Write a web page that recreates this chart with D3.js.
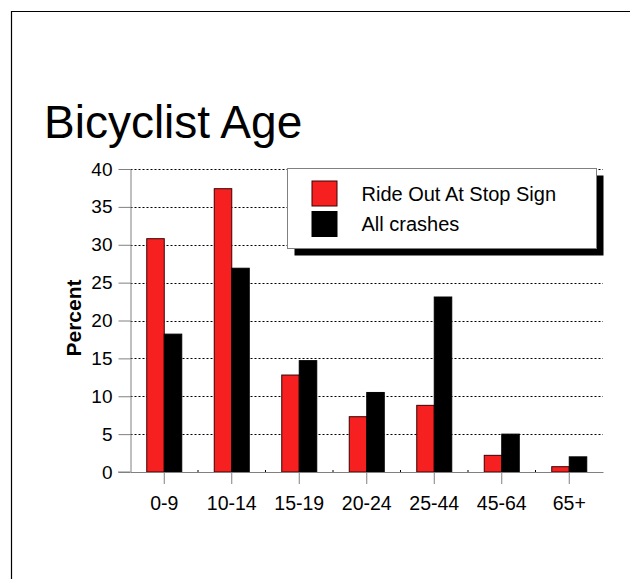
<!DOCTYPE html>
<html>
<head>
<meta charset="utf-8">
<script src="https://cdn.jsdelivr.net/npm/d3@7"></script>
<style>
  body { margin: 0; background: #fff; }
  text { font-family: "Liberation Sans", Arial, sans-serif; }
</style>
</head>
<body>
<svg id="chart" width="630" height="579"></svg>
<script>
const categories = ["0-9", "10-14", "15-19", "20-24", "25-44", "45-64", "65+"];
const rideOut = [30.8, 37.4, 12.8, 7.3, 8.8, 2.2, 0.7];
const allCrashes = [18.2, 26.9, 14.7, 10.5, 23.1, 5.0, 2.0];
const seriesNames = ["Ride Out At Stop Sign", "All crashes"];
const seriesColors = ["#f72020", "#000000"];
const yTicks = [0, 5, 10, 15, 20, 25, 30, 35, 40];

const svg = d3.select("#chart");

// page frame
svg.append("path")
    .attr("d", "M11.5,579 L11.5,11.5 L630,11.5")
    .attr("fill", "none")
    .attr("stroke", "#000")
    .attr("stroke-width", 1.2);

svg.append("text")
    .attr("x", 44).attr("y", 138)
    .attr("font-size", 46)
    .text("Bicyclist Age");

let margin = {top: 169, right: 27, bottom: 107, left: 130.5};
let width = 630, height = 579;

let x = d3.scaleBand()
    .domain(categories)
    .range([margin.left, width - margin.right]);

let xs = d3.scaleBand()
    .domain([0, 1])
    .range([x.bandwidth() / 2 - 17.5, x.bandwidth() / 2 + 17.5]);

let y = d3.scaleLinear()
    .domain([0, 40])
    .range([height - margin.bottom, margin.top]);

// dotted grid
svg.append("g")
    .selectAll("line").data(yTicks.filter(d => d > 0)).enter().append("line")
    .attr("x1", margin.left).attr("x2", width - margin.right)
    .attr("y1", d => Math.round(y(d)) + 0.5).attr("y2", d => Math.round(y(d)) + 0.5)
    .attr("stroke", "#000")
    .attr("stroke-dasharray", "2,2");

// y axis
let yAxis = g => g
    .attr("transform", `translate(${margin.left},0)`)
    .call(d3.axisLeft(y).tickValues(yTicks).tickSize(12).tickPadding(6).tickSizeOuter(0))
    .call(g => g.selectAll(".domain, line").attr("stroke", "#808080"))
    .call(g => g.selectAll("text").attr("font-size", 19).attr("fill", "#000")
        .attr("font-family", "Liberation Sans, Arial, sans-serif"));
svg.append("g").call(yAxis);

// bars
const rows = categories.map((c, i) => ({cat: c, vals: [rideOut[i], allCrashes[i]]}));
svg.append("g")
    .selectAll("g").data(rows).enter().append("g")
    .attr("transform", d => `translate(${x(d.cat)},0)`)
    .selectAll("rect").data(d => d.vals.map((v, k) => ({v, k}))).enter().append("rect")
    .attr("x", d => xs(d.k))
    .attr("y", d => y(d.v))
    .attr("width", xs.bandwidth())
    .attr("height", d => y(0) - y(d.v))
    .attr("fill", d => seriesColors[d.k])
    .attr("stroke", d => d.k === 0 ? "#3a0000" : "#000")
    .attr("stroke-width", 1);

// x axis
let xAxis = g => g
    .attr("transform", `translate(0,${y(0)})`)
    .call(d3.axisBottom(x).tickSize(12).tickPadding(12).tickSizeOuter(0))
    .call(g => g.selectAll(".domain, line").attr("stroke", "#808080"))
    .call(g => g.selectAll("text").attr("font-size", 19.5).attr("fill", "#000")
        .attr("font-family", "Liberation Sans, Arial, sans-serif"));
svg.append("g").call(xAxis);
svg.append("line")
    .attr("x1", 118).attr("x2", margin.left)
    .attr("y1", y(0)).attr("y2", y(0))
    .attr("stroke", "#808080");

// small ticks between categories
svg.append("g")
    .selectAll("line").data(categories.slice(1)).enter().append("line")
    .attr("x1", d => x(d)).attr("x2", d => x(d))
    .attr("y1", y(0) - 2).attr("y2", y(0))
    .attr("stroke", "#000");

svg.append("text")
    .attr("transform", "translate(81,318) rotate(-90)")
    .attr("text-anchor", "middle")
    .attr("font-size", 21)
    .attr("font-weight", "bold")
    .text("Percent");

// legend
const legend = svg.append("g").attr("transform", "translate(287.5,168.5)");
legend.append("rect")
    .attr("x", 7).attr("y", 7).attr("width", 309).attr("height", 80)
    .attr("fill", "#000");
legend.append("rect")
    .attr("width", 309).attr("height", 80)
    .attr("fill", "#fff")
    .attr("stroke", "#808080");
seriesNames.forEach((name, i) => {
    legend.append("rect")
        .attr("x", 24.5).attr("y", 12.5 + i * 30.5)
        .attr("width", 25).attr("height", 25)
        .attr("fill", seriesColors[i])
        .attr("stroke", i === 0 ? "#3a0000" : "#000");
    legend.append("text")
        .attr("x", 74).attr("y", 32.5 + i * 30)
        .attr("font-size", 20)
        .text(name);
});
</script>
</body>
</html>
